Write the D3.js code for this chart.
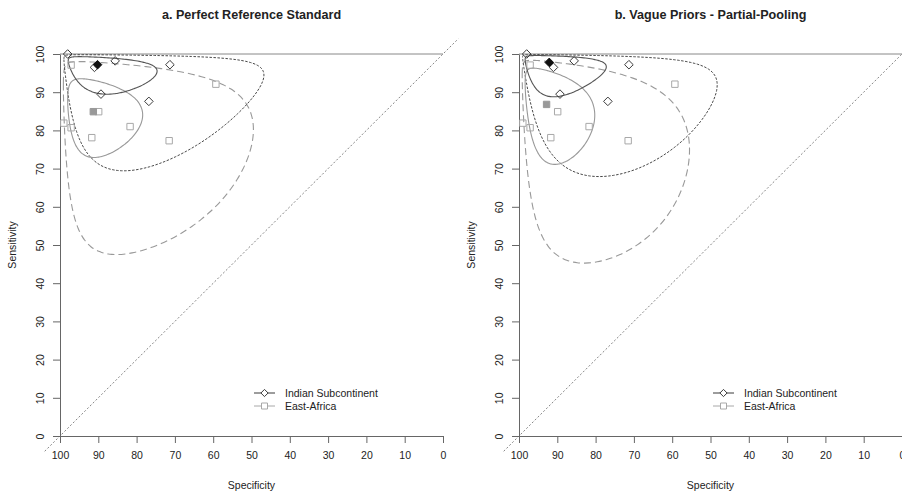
<!DOCTYPE html>
<html>
<head>
<meta charset="utf-8">
<script src="https://cdn.jsdelivr.net/npm/d3@7"></script>
<style>
  body { margin: 0; background: #fff; }
  svg { font-family: "Liberation Sans", Arial, sans-serif; }
</style>
</head>
<body>
<div class="js-canvas"></div>
<script>
'use strict';

// tick labels
const specTicks = [100, 90, 80, 70, 60, 50, 40, 30, 20, 10, 0];
const sensTicks = [0, 10, 20, 30, 40, 50, 60, 70, 80, 90, 100];

const panelTitles = ['a. Perfect Reference Standard', 'b. Vague Priors - Partial-Pooling'];
const seriesNames = ['Indian Subcontinent', 'East-Africa'];

// study points (specificity, sensitivity in %)
const indianSpec = [98.0, 85.6, 91.0, 71.3, 89.3, 76.8];
const indianSens = [100, 98.2, 96.5, 97.2, 89.5, 87.6];
const eastAfricaSpec = [97.1, 59.3, 89.9, 99.0, 97.1, 81.7, 91.7, 71.5];
const eastAfricaSens = [97.1, 92.1, 84.9, 81.9, 80.7, 81.0, 78.1, 77.3];

// summary points per panel [spec, sens]
const indianSummary = [[90.2, 97.2], [92.1, 97.8]];
const eastAfricaSummary = [[91.3, 84.9], [92.8, 86.8]];

// regions on logit scale per panel:
// [centre logit spec, half-width, centre logit sens, half-height, correlation]
const indianConfidence = [[2.45, 1.37, 3.55, 1.41, 0.35], [2.67, 1.45, 3.79, 1.72, 0.25]];
const indianPrediction = [[2.22, 2.35, 3.55, 2.73, 0.26], [2.30, 2.37, 3.60, 2.85, 0.41]];
const eastAfricaConfidence = [[2.59, 1.30, 1.83, 0.84, 0.20], [2.76, 1.36, 2.08, 1.18, 0.36]];
const eastAfricaPrediction = [[2.35, 2.37, 1.90, 2.00, 0.25], [2.50, 2.28, 1.95, 2.14, 0.40]];

const config = {
    width: 902,
    height: 492,
    panelLeft: [60, 519],
    plotWidth: 383,
    top: 54,
    bottom: 436,
    font: 10.5
};

const colors = {
    indian: '#3a3a3a',
    indianRegion: '#555',
    east: '#a8a8a8',
    eastRegion: '#999',
    axis: '#666',
    text: '#222'
};

const svg = d3.select('.js-canvas')
    .append('svg')
    .attr('width', config.width)
    .attr('height', config.height);

const expit = z => 100 / (1 + Math.exp(-z));

const diamond = r => `M0,${-r}L${r},0L0,${r}L${-r},0Z`;
const square = h => `M${-h},${-h}H${h}V${h}H${-h}Z`;

function regionPath(p, x, y) {
    const [cu, au, cv, av, r] = p;
    const pts = d3.range(0, 360, 2).map(deg => {
        const t = deg * Math.PI / 180;
        const u = cu + au * Math.cos(t);
        const v = cv + av * (r * Math.cos(t) + Math.sqrt(1 - r * r) * Math.sin(t));
        return [x(expit(u)), y(expit(v))];
    });
    return d3.line().curve(d3.curveCardinalClosed)(pts);
}

panelTitles.forEach((title, i) => {
    const left = config.panelLeft[i];
    const x = d3.scaleLinear().domain([100, 0]).range([left, left + config.plotWidth]);
    const y = d3.scaleLinear().domain([0, 100]).range([config.bottom, config.top]);
    const g = svg.append('g');
    const cx = left + config.plotWidth / 2;

    // title
    g.append('text')
        .attr('x', cx).attr('y', 19)
        .attr('text-anchor', 'middle')
        .attr('font-weight', 'bold')
        .attr('font-size', 12.6)
        .attr('fill', colors.text)
        .text(title);

    // diagonal, drawn over the extended user region
    g.append('line')
        .attr('x1', x(104)).attr('y1', y(-4))
        .attr('x2', x(-4)).attr('y2', y(104))
        .attr('stroke', '#777').attr('stroke-width', 0.9)
        .attr('stroke-dasharray', '2,2');

    // line at sensitivity 100
    g.append('line')
        .attr('x1', x(100)).attr('x2', x(0))
        .attr('y1', y(100)).attr('y2', y(100))
        .attr('stroke', '#888').attr('stroke-width', 1);

    // axes
    const xAxis = g.append('g')
        .attr('transform', `translate(0, ${config.bottom})`)
        .call(d3.axisBottom(x).tickValues(specTicks).tickSize(7).tickPadding(9).tickSizeOuter(0));
    const yAxis = g.append('g')
        .attr('transform', `translate(${left}, 0)`)
        .call(d3.axisLeft(y).tickValues(sensTicks).tickSize(7).tickSizeOuter(0));

    [xAxis, yAxis].forEach(ax => {
        ax.select('.domain').attr('stroke', colors.axis);
        ax.selectAll('line').attr('stroke', colors.axis);
        ax.selectAll('text')
            .attr('font-size', config.font)
            .attr('font-family', '"Liberation Sans", Arial, sans-serif')
            .attr('fill', colors.text);
    });
    yAxis.selectAll('text')
        .attr('x', null).attr('dy', null)
        .attr('text-anchor', 'middle')
        .attr('transform', 'translate(-16,0) rotate(-90)');

    g.append('text')
        .attr('x', cx).attr('y', 489)
        .attr('text-anchor', 'middle')
        .attr('font-size', config.font)
        .attr('fill', colors.text)
        .text('Specificity');
    g.append('text')
        .attr('transform', `translate(${left - 44}, ${(config.top + config.bottom) / 2}) rotate(-90)`)
        .attr('text-anchor', 'middle')
        .attr('font-size', config.font)
        .attr('fill', colors.text)
        .text('Sensitivity');

    // regions
    g.append('path').attr('d', regionPath(eastAfricaPrediction[i], x, y))
        .attr('fill', 'none').attr('stroke', colors.eastRegion)
        .attr('stroke-width', 1.1).attr('stroke-dasharray', '7,4');
    g.append('path').attr('d', regionPath(indianPrediction[i], x, y))
        .attr('fill', 'none').attr('stroke', '#333')
        .attr('stroke-width', 0.9).attr('stroke-dasharray', '2.5,1.5');
    g.append('path').attr('d', regionPath(eastAfricaConfidence[i], x, y))
        .attr('fill', 'none').attr('stroke', colors.eastRegion).attr('stroke-width', 1.1);
    g.append('path').attr('d', regionPath(indianConfidence[i], x, y))
        .attr('fill', 'none').attr('stroke', colors.indianRegion).attr('stroke-width', 1.1);

    // study points
    g.selectAll('.ea')
        .data(eastAfricaSpec.map((s, k) => [s, eastAfricaSens[k]]))
        .enter().append('path')
        .attr('class', 'ea')
        .attr('d', square(3.2))
        .attr('transform', d => `translate(${x(d[0])}, ${y(d[1])})`)
        .attr('fill', 'none').attr('stroke', colors.east).attr('stroke-width', 1);
    g.selectAll('.ind')
        .data(indianSpec.map((s, k) => [s, indianSens[k]]))
        .enter().append('path')
        .attr('class', 'ind')
        .attr('d', diamond(4.3))
        .attr('transform', d => `translate(${x(d[0])}, ${y(d[1])})`)
        .attr('fill', 'none').attr('stroke', colors.indian).attr('stroke-width', 1);

    // summary points
    g.append('path').attr('d', square(3.2))
        .attr('transform', `translate(${x(eastAfricaSummary[i][0])}, ${y(eastAfricaSummary[i][1])})`)
        .attr('fill', '#999').attr('stroke', '#999');
    g.append('path').attr('d', diamond(4.3))
        .attr('transform', `translate(${x(indianSummary[i][0])}, ${y(indianSummary[i][1])})`)
        .attr('fill', '#111').attr('stroke', '#111');

    // legend
    const legend = g.append('g').attr('transform', `translate(${left + 194}, 393)`);
    seriesNames.forEach((name, k) => {
        const row = legend.append('g').attr('transform', `translate(0, ${k * 13})`);
        const c = k === 0 ? colors.indian : colors.east;
        row.append('line').attr('x1', 0).attr('x2', 21).attr('stroke', c).attr('stroke-width', 1);
        row.append('path')
            .attr('d', k === 0 ? diamond(3.6) : square(3))
            .attr('transform', 'translate(10.5,0)')
            .attr('fill', '#fff').attr('stroke', c);
        row.append('text')
            .attr('x', 31).attr('dy', '0.35em')
            .attr('font-size', config.font)
            .attr('fill', colors.text)
            .text(name);
    });
});
</script>
</body>
</html>
